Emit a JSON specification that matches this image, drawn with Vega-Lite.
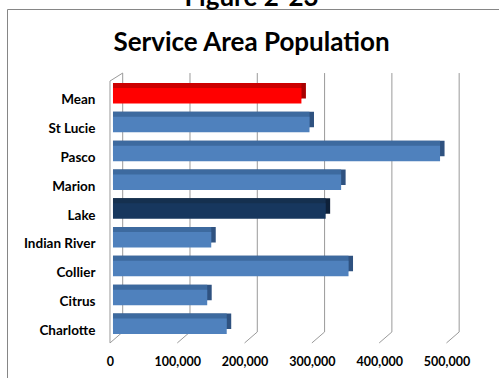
{
  "$schema": "https://vega.github.io/schema/vega-lite/v6.json",
  "width": 499,
  "height": 378,
  "autosize": {"type": "none"},
  "padding": {"left": 7, "top": 9, "right": 0, "bottom": 0},
  "background": "#ffffff",
  "title": {
    "text": "Figure 2-23",
    "subtitle": "Service Area Population",
    "anchor": "middle",
    "frame": "group",
    "font": "Lato",
    "fontSize": 26,
    "fontWeight": "bold",
    "color": "#000000",
    "subtitleFont": "Lato",
    "subtitleFontSize": 26,
    "subtitleFontWeight": "bold",
    "subtitleColor": "#000000",
    "subtitlePadding": 19,
    "offset": -47,
    "dx": -5
  },
  "datasets": {
    "counties": [
      {"County": "Mean", "Population": 280000},
      {"County": "St Lucie", "Population": 292000},
      {"County": "Pasco", "Population": 486000},
      {"County": "Marion", "Population": 339000},
      {"County": "Lake", "Population": 316000},
      {"County": "Indian River", "Population": 146000},
      {"County": "Collier", "Population": 350000},
      {"County": "Citrus", "Population": 140000},
      {"County": "Charlotte", "Population": 169000}
    ],
    "ticks": [
      {"tick": 0}, {"tick": 100000}, {"tick": 200000},
      {"tick": 300000}, {"tick": 400000}, {"tick": 500000}
    ]
  },
  "config": {
    "view": {"stroke": "#868686", "strokeWidth": 1},
    "axis": {
      "labelFont": "Lato",
      "labelFontWeight": "bold",
      "labelColor": "#000000",
      "ticks": false,
      "tickSize": 0,
      "domain": false,
      "grid": false,
      "title": null
    },
    "axisX": {"labelFontSize": 12.5},
    "axisY": {"labelFontSize": 13.5}
  },
  "layer": [
    {
      "data": {"name": "ticks"},
      "mark": {"type": "rule", "color": "#9a9a9a", "strokeWidth": 1, "xOffset": 9.7, "x2Offset": 9.7, "yOffset": -22.75, "y2Offset": 5.75},
      "encoding": {
        "x": {
          "field": "tick", "type": "quantitative",
          "scale": {"domain": [-157500, 584000], "nice": false, "zero": false},
          "axis": {"values": [0, 100000, 200000, 300000, 400000, 500000], "labelExpr": "format(datum.value, ',')", "labelPadding": 0, "offset": -32, "labelOffset": -3, "title": null}
        },
        "y": {
          "datum": "Mean", "type": "nominal",
          "scale": {"domain": ["Mean", "St Lucie", "Pasco", "Marion", "Lake", "Indian River", "Collier", "Citrus", "Charlotte"], "range": [73, 331], "paddingInner": 0.462, "paddingOuter": 0.21},
          "axis": {"labelPadding": 0, "offset": -88, "labelOffset": 4.5, "labelAlign": "right", "title": null}
        },
        "y2": {"datum": "Charlotte"}
      }
    },
    {
      "data": {"name": "ticks"},
      "mark": {"type": "rule", "color": "#9a9a9a", "strokeWidth": 1, "xOffset": -3, "x2Offset": 9.7, "yOffset": 16.75, "y2Offset": 5.75},
      "encoding": {
        "x": {"field": "tick", "type": "quantitative", "scale": {"domain": [-157500, 584000], "nice": false, "zero": false},
          "axis": {"values": [0, 100000, 200000, 300000, 400000, 500000], "labelExpr": "format(datum.value, ',')", "labelPadding": 0, "offset": -32, "labelOffset": -3, "title": null}},
        "x2": {"field": "tick"},
        "y": {"datum": "Charlotte", "type": "nominal"},
        "y2": {"datum": "Charlotte"}
      }
    },
    {
      "data": {"values": [{"tick": 0}]},
      "mark": {"type": "rule", "color": "#9a9a9a", "strokeWidth": 1, "xOffset": -3, "x2Offset": -3, "yOffset": -14.75, "y2Offset": 16.75},
      "encoding": {
        "x": {"field": "tick", "type": "quantitative", "scale": {"domain": [-157500, 584000], "nice": false, "zero": false},
          "axis": {"values": [0, 100000, 200000, 300000, 400000, 500000], "labelExpr": "format(datum.value, ',')", "labelPadding": 0, "offset": -32, "labelOffset": -3, "title": null}},
        "y": {"datum": "Mean", "type": "nominal"},
        "y2": {"datum": "Charlotte"}
      }
    },
    {
      "data": {"values": [{"tick": 0}]},
      "mark": {"type": "rule", "color": "#9a9a9a", "strokeWidth": 1, "xOffset": -3, "x2Offset": 9.7, "yOffset": -14.75, "y2Offset": -22.75},
      "encoding": {
        "x": {"field": "tick", "type": "quantitative", "scale": {"domain": [-157500, 584000], "nice": false, "zero": false},
          "axis": {"values": [0, 100000, 200000, 300000, 400000, 500000], "labelExpr": "format(datum.value, ',')", "labelPadding": 0, "offset": -32, "labelOffset": -3, "title": null}},
        "x2": {"field": "tick"},
        "y": {"datum": "Mean", "type": "nominal"},
        "y2": {"datum": "Mean"}
      }
    },
    {
      "data": {"name": "counties"},
      "mark": {"type": "bar", "xOffset": 4.5, "x2Offset": 4.5, "yOffset": -5, "y2Offset": -5},
      "encoding": {
        "y": {"field": "County", "type": "nominal"},
        "x": {"field": "Population", "type": "quantitative", "stack": null, "scale": {"domain": [-157500, 584000], "nice": false, "zero": false},
          "axis": {"values": [0, 100000, 200000, 300000, 400000, 500000], "labelExpr": "format(datum.value, ',')", "labelPadding": 0, "offset": -32, "labelOffset": -3, "title": null}},
        "color": {
          "condition": [
            {"test": "datum.County === 'Mean'", "value": "#a80000"},
            {"test": "datum.County === 'Lake'", "value": "#0e2139"}
          ],
          "value": "#2f5280"
        }
      }
    },
    {
      "data": {"name": "counties"},
      "mark": {"type": "bar", "xOffset": 0, "x2Offset": 4.5, "yOffset": -5, "y2Offset": -5},
      "encoding": {
        "y": {"field": "County", "type": "nominal"},
        "x": {"field": "Population", "type": "quantitative", "stack": null, "scale": {"domain": [-157500, 584000], "nice": false, "zero": false},
          "axis": {"values": [0, 100000, 200000, 300000, 400000, 500000], "labelExpr": "format(datum.value, ',')", "labelPadding": 0, "offset": -32, "labelOffset": -3, "title": null}},
        "color": {
          "condition": [
            {"test": "datum.County === 'Mean'", "value": "#cc0000"},
            {"test": "datum.County === 'Lake'", "value": "#15304f"}
          ],
          "value": "#3d6a9f"
        }
      }
    },
    {
      "data": {"name": "counties"},
      "mark": {"type": "bar"},
      "encoding": {
        "y": {"field": "County", "type": "nominal"},
        "x": {"field": "Population", "type": "quantitative", "stack": null, "scale": {"domain": [-157500, 584000], "nice": false, "zero": false},
          "axis": {"values": [0, 100000, 200000, 300000, 400000, 500000], "labelExpr": "format(datum.value, ',')", "labelPadding": 0, "offset": -32, "labelOffset": -3, "title": null}},
        "color": {
          "condition": [
            {"test": "datum.County === 'Mean'", "value": "#ff0000"},
            {"test": "datum.County === 'Lake'", "value": "#17375e"}
          ],
          "value": "#4f81bd"
        }
      }
    }
  ]
}
